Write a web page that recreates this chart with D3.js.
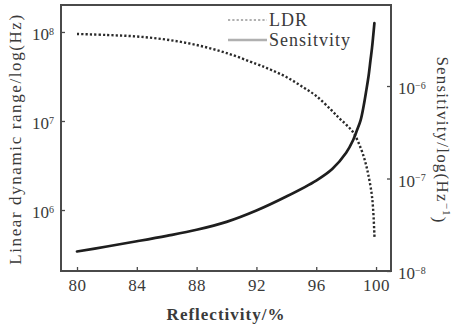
<!DOCTYPE html>
<html>
<head>
<meta charset="utf-8">
<script src="https://cdn.jsdelivr.net/npm/d3@7/dist/d3.min.js"></script>
<style>
  html, body { margin: 0; padding: 0; background: #fff; }
  svg { display: block; }
  text { font-family: "Liberation Serif", "Times New Roman", serif; fill: #3a3a3a; }
</style>
</head>
<body>
<svg id="chart" width="453" height="327"></svg>
<script>
// Linear dynamic range (left axis, Hz) versus mirror reflectivity
const ldrReflectivity = [80, 82, 84, 86, 88, 90, 92, 93, 94, 95, 96, 97, 97.5, 98, 98.5, 99, 99.3, 99.5, 99.7, 99.8, 99.9];
const ldrValues = [9.5e7, 9.25e7, 8.9e7, 8.2e7, 7.14e7, 5.8e7, 4.37e7, 3.74e7, 3.12e7, 2.47e7, 1.91e7,
                   1.33e7, 1.09e7, 9.1e6, 7.33e6, 4.84e6, 3.37e6, 2.41e6, 1.55e6, 1.05e6, 4.84e5];

// Sensitivity (right axis, Hz^-1) versus mirror reflectivity
const sensReflectivity = [80, 82, 84, 86, 88, 90, 92, 94, 96, 97.07, 98, 98.47, 98.73, 98.97, 99.17,
                          99.33, 99.5, 99.63, 99.73, 99.81, 99.89];
const sensValues = [1.625e-8, 1.84e-8, 2.095e-8, 2.4e-8, 2.79e-8, 3.4e-8, 4.51e-8, 6.39e-8, 9.51e-8, 1.267e-7,
                    1.9e-7, 2.61e-7, 3.34e-7, 4.28e-7, 6.08e-7, 8.61e-7, 1.282e-6, 1.91e-6, 2.58e-6,
                    3.48e-6, 4.8e-6];

const xTicks = [80, 84, 88, 92, 96, 100];
const ldrTicks = [1e6, 1e7, 1e8];
const sensTicks = [1e-8, 1e-7, 1e-6];

const legendLabels = ["LDR", "Sensitvity"];

const plot = { left: 61, right: 391, top: 5, bottom: 271 };

const svg = d3.select("#chart");

const x = d3.scaleLinear().domain([78.93, 101]).range([plot.left, plot.right]);
const yLdr = d3.scaleLog().domain([Math.pow(10, 5.315), Math.pow(10, 8.303)]).range([plot.bottom, plot.top]);
const ySens = d3.scaleLog().domain([1e-8, Math.pow(10, -5.124)]).range([plot.bottom, plot.top]);

const axisColor = "#4a4a4a";

// writes "10" with a superscript exponent into a tick label
function powerLabel(sel) {
  sel.each(function (d) {
    const t = d3.select(this).text(null);
    const e = Math.round(Math.log10(d));
    t.append("tspan").text("10");
    t.append("tspan").attr("dy", "-0.55em").attr("font-size", "10px").text(e < 0 ? "\u2212" + (-e) : e);
  });
}

// bottom axis
const gx = svg.append("g")
  .attr("transform", `translate(0,${plot.bottom})`)
  .call(d3.axisBottom(x).tickValues(xTicks).tickSizeInner(-4).tickSizeOuter(0).tickPadding(8));
gx.select(".domain").remove();
gx.selectAll(".tick line").attr("stroke", axisColor).attr("stroke-width", 1.3);
gx.selectAll(".tick text").attr("font-size", "17px").attr("fill", "#3a3a3a")
  .attr("font-family", "Liberation Serif").attr("letter-spacing", "0.5px");

// left axis
const gl = svg.append("g")
  .attr("transform", `translate(${plot.left},0)`)
  .call(d3.axisLeft(yLdr).tickValues(ldrTicks).tickSizeInner(-4).tickSizeOuter(0).tickPadding(7));
gl.select(".domain").remove();
gl.selectAll(".tick line").attr("stroke", axisColor).attr("stroke-width", 1.3);
gl.selectAll(".tick text").attr("font-size", "17px").attr("fill", "#3a3a3a")
  .attr("font-family", "Liberation Serif").attr("dy", "0.45em").call(powerLabel);

// right axis
const gr = svg.append("g")
  .attr("transform", `translate(${plot.right},0)`)
  .call(d3.axisRight(ySens).tickValues(sensTicks).tickSizeInner(-4).tickSizeOuter(0).tickPadding(7));
gr.select(".domain").remove();
gr.selectAll(".tick line").attr("stroke", axisColor).attr("stroke-width", 1.3);
gr.selectAll(".tick text").attr("font-size", "17px").attr("fill", "#3a3a3a")
  .attr("font-family", "Liberation Serif").attr("dy", "0.45em").call(powerLabel);

// frame
svg.append("rect")
  .attr("x", plot.left).attr("y", plot.top)
  .attr("width", plot.right - plot.left).attr("height", plot.bottom - plot.top)
  .attr("fill", "none").attr("stroke", axisColor).attr("stroke-width", 2);

// curves
const ldrLine = d3.line()
  .x((d, i) => x(ldrReflectivity[i]))
  .y(d => yLdr(d))
  .curve(d3.curveCatmullRom.alpha(0.5));
const sensLine = d3.line()
  .x((d, i) => x(sensReflectivity[i]))
  .y(d => ySens(d))
  .curve(d3.curveCatmullRom.alpha(0.5));

svg.append("path")
  .attr("d", ldrLine(ldrValues))
  .attr("fill", "none").attr("stroke", "#2a2a2a")
  .attr("stroke-width", 2.4).attr("stroke-dasharray", "2.2,2.1");

svg.append("path")
  .attr("d", sensLine(sensValues))
  .attr("fill", "none").attr("stroke", "#1e1e1e")
  .attr("stroke-width", 2.7).attr("stroke-linecap", "round");

// legend
const legend = svg.append("g");
const legendY = [20, 40];
legend.append("line").attr("x1", 228).attr("x2", 267).attr("y1", legendY[0]).attr("y2", legendY[0])
  .attr("stroke", "#b0b0b0").attr("stroke-width", 2.2).attr("stroke-dasharray", "2.2,2.1");
legend.append("line").attr("x1", 228).attr("x2", 267).attr("y1", legendY[1]).attr("y2", legendY[1])
  .attr("stroke", "#b0b0b0").attr("stroke-width", 2.4);
legend.selectAll("text.leg").data(legendLabels).join("text")
  .attr("class", "leg")
  .attr("x", 269).attr("y", (d, i) => legendY[i] + 6)
  .attr("font-size", "18px").attr("letter-spacing", "1px").attr("fill", "#5a5a5a")
  .text(d => d);

// axis titles
svg.append("text")
  .attr("transform", `translate(${(plot.left + plot.right) / 2},320)`)
  .attr("text-anchor", "middle").attr("font-size", "17px").attr("font-weight", "bold")
  .attr("letter-spacing", "1px").attr("fill", "#4a4a4a")
  .text("Reflectivity/%");

svg.append("text")
  .attr("transform", "translate(21,139) rotate(-90)")
  .attr("text-anchor", "middle").attr("font-size", "17px")
  .attr("letter-spacing", "1.6px").attr("fill", "#3a3a3a")
  .text("Linear dynamic range/log(Hz)");

const rt = svg.append("text")
  .attr("transform", "translate(437,140) rotate(90)")
  .attr("text-anchor", "middle").attr("font-size", "17px")
  .attr("letter-spacing", "1.2px").attr("fill", "#4a4a4a");
rt.append("tspan").text("Sensitivity/log(Hz");
rt.append("tspan").attr("dy", "-0.5em").attr("font-size", "11px").text("\u22121");
rt.append("tspan").attr("dy", "0.5em").text(")");
</script>
</body>
</html>
